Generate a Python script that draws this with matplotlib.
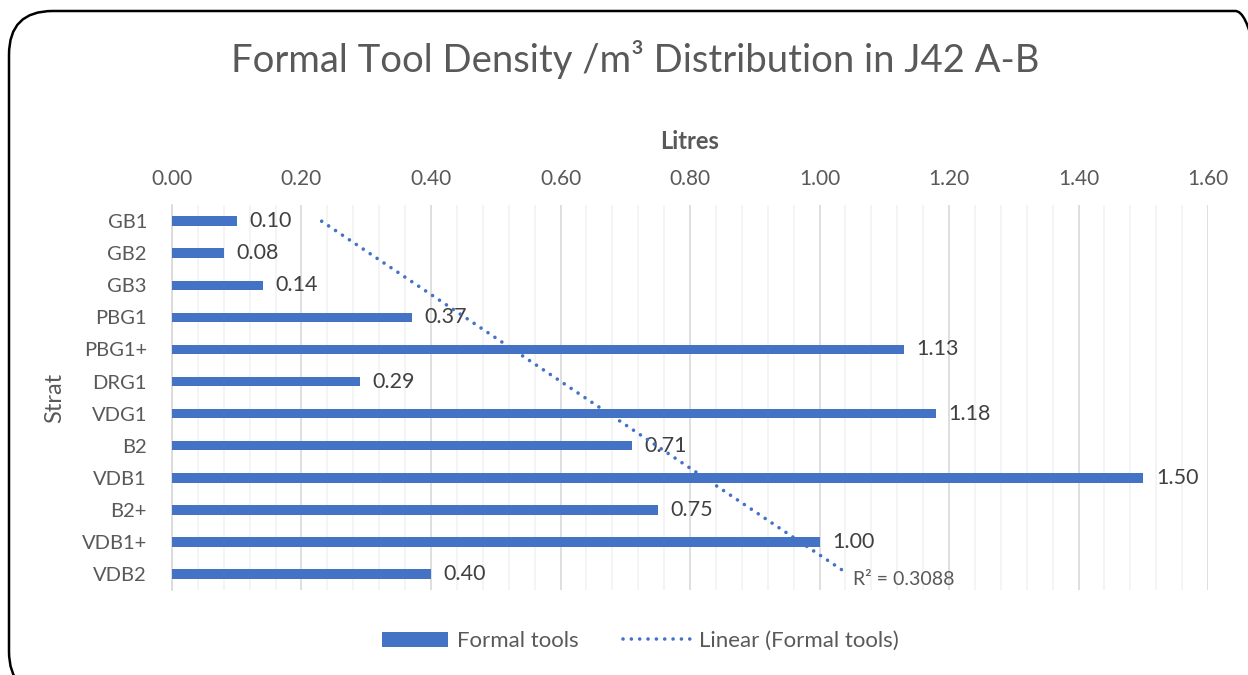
import numpy as np
import matplotlib
matplotlib.use("Agg")
import matplotlib.pyplot as plt
from matplotlib.patches import FancyBboxPatch, Patch
from matplotlib.lines import Line2D
from matplotlib.ticker import MultipleLocator

strat_l = ["GB1", "GB2", "GB3", "PBG1", "PBG1+", "DRG1", "VDG1", "B2", "VDB1", "B2+", "VDB1+", "VDB2"]
litres_l = [0.10, 0.08, 0.14, 0.37, 1.13, 0.29, 1.18, 0.71, 1.50, 0.75, 1.00, 0.40]
xticks_l = [0.0, 0.2, 0.4, 0.6, 0.8, 1.0, 1.2, 1.4, 1.6]
r2_label_s = "R² = 0.3088"

plt.rcParams["font.family"] = ["Lato", "DejaVu Sans"]
text_c = "#595959"
bar_c = "#4472C4"
dot_ls = (0, (0.01, 2.3))

fig = plt.figure(figsize=(12.48, 6.75), dpi=100)
ax = fig.add_axes([0.1378, 0.126, 0.968 - 0.1378, 0.696 - 0.126])

# rounded chart border, runs off the right and bottom edge
fig.patches.append(
    FancyBboxPatch(
        (9 / 1248, -20 / 675), 1270 / 1248, (675 - 11 + 20) / 675,
        boxstyle="round,pad=0,rounding_size=0.035",
        transform=fig.transFigure, fill=False, edgecolor="black", linewidth=1.8,
        mutation_aspect=1248 / 675,
    )
)

pos_l = np.arange(len(strat_l))
ax.barh(pos_l, litres_l, height=0.3, color=bar_c, zorder=3)
for p, v in zip(pos_l, litres_l):
    ax.annotate(f"{v:.2f}", (v, p), xytext=(9, 0), textcoords="offset points",
                va="center", ha="left", fontsize=15.5, color="#404040", zorder=4)

# linear trendline on category index, like excel does it
x_idx = pos_l + 1
slope, icpt = np.polyfit(x_idx, litres_l, 1)
fit_l = slope * x_idx + icpt
ax.plot(fit_l, pos_l, linestyle=dot_ls, color=bar_c, linewidth=2.6,
        dash_capstyle="round", zorder=4)
ax.annotate(r2_label_s, (fit_l[-1], pos_l[-1]), xytext=(4, -4),
            textcoords="offset points", va="center", ha="left", fontsize=14,
            color=text_c, zorder=4)

ax.set_xlim(0, 1.6)
ax.set_ylim(len(strat_l) - 0.5, -0.5)
ax.set_xticks(xticks_l)
ax.set_xticklabels([f"{t:.2f}" for t in xticks_l])
ax.xaxis.set_minor_locator(MultipleLocator(0.04))
ax.xaxis.tick_top()
ax.xaxis.set_label_position("top")
ax.set_yticks(pos_l)
ax.set_yticklabels(strat_l)
ax.tick_params(axis="both", which="both", length=0, labelcolor=text_c)
ax.tick_params(axis="x", pad=12, labelsize=15)
ax.tick_params(axis="y", pad=18, labelsize=14.5)
ax.grid(axis="x", which="major", color="#D9D9D9", linewidth=1.2, zorder=0)
ax.grid(axis="x", which="minor", color="#F2F2F2", linewidth=1.2, zorder=0)
ax.set_axisbelow(True)
for sp in ["top", "right", "bottom"]:
    ax.spines[sp].set_visible(False)
ax.spines["left"].set_color("#D9D9D9")
ax.spines["left"].set_linewidth(1.2)

ax.set_xlabel("Litres", fontsize=17, fontweight="bold", color=text_c, labelpad=14)
ax.set_ylabel("Strat", fontsize=17, color=text_c, labelpad=12)

fig.text(0.509, 0.912, "Formal Tool Density /m³ Distribution in J42 A-B",
         ha="center", va="center", fontsize=27.5, color=text_c)

handles = [
    Patch(facecolor=bar_c, edgecolor="none"),
    Line2D([0], [0], linestyle=dot_ls, color=bar_c, linewidth=2.6, dash_capstyle="round"),
]
fig.legend(handles, ["Formal tools", "Linear (Formal tools)"], loc="center",
           bbox_to_anchor=(0.513, 0.05), ncol=2, frameon=False, fontsize=16,
           labelcolor=text_c, handlelength=3.0, handleheight=0.7, columnspacing=2.0,
           handletextpad=0.4)

fig.savefig("out.png", dpi=100, facecolor="white")
